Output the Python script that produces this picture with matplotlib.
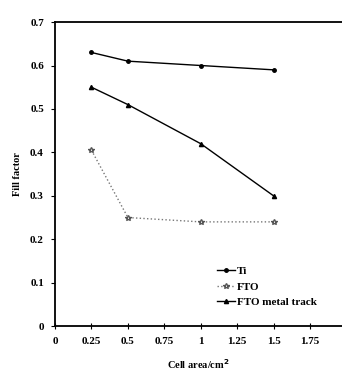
import matplotlib
matplotlib.use("Agg")
from matplotlib import pyplot as plt

# 数据
area = [0.25, 0.5, 1.0, 1.5]
ti = [0.63, 0.61, 0.60, 0.59]
fto = [0.405, 0.25, 0.24, 0.24]
fto_track = [0.55, 0.51, 0.42, 0.30]
xticks = [0, 0.25, 0.5, 0.75, 1, 1.25, 1.5, 1.75]
xlabels = ["0", "0.25", "0.5", "0.75", "1", "1.25", "1.5", "1.75"]
yticks = [0, 0.1, 0.2, 0.3, 0.4, 0.5, 0.6, 0.7]

plt.rcParams['font.family'] = ['Liberation Serif', 'DejaVu Serif']
plt.rcParams['font.weight'] = 'bold'
plt.rcParams['axes.labelweight'] = 'bold'

fig = plt.figure(figsize=(3.42, 3.74), dpi=100)
ax = fig.add_axes([0.161, 0.128, 0.839, 0.813])

ax.plot(area, ti, color='black', lw=1.0, marker='o', ms=2.5, label='Ti')
ax.plot(area, fto, color='#777777', lw=1.0, ls=':', marker='*', ms=4,
        mfc='white', mec='#555555', label='FTO')
ax.plot(area, fto_track, color='black', lw=1.0, marker='^', ms=3, label='FTO metal track')

ax.set_xlim(0, 1.97)
ax.set_ylim(0, 0.7)
ax.set_xticks(xticks)
ax.set_xticklabels(xlabels)
ax.set_yticks(yticks)
ax.set_yticklabels(["0", "0.1", "0.2", "0.3", "0.4", "0.5", "0.6", "0.7"])
ax.tick_params(axis='x', direction='inout', length=4, labelsize=8, pad=6)
ax.tick_params(axis='y', direction='out', length=3, labelsize=8, pad=5)
ax.spines['right'].set_visible(False)
for s in ['left', 'bottom', 'top']:
    ax.spines[s].set_linewidth(1.3)

ax.set_xlabel('Cell area/cm$^{\\mathbf{2}}$', fontsize=7.5, labelpad=8)
ax.set_ylabel('Fill factor', fontsize=7.5, labelpad=6)

ax.legend(loc='lower left', bbox_to_anchor=(0.53, 0.03), frameon=False,
          fontsize=8, handlelength=1.6, handletextpad=0.2, labelspacing=0.5)

plt.savefig('out.png', dpi=100)
